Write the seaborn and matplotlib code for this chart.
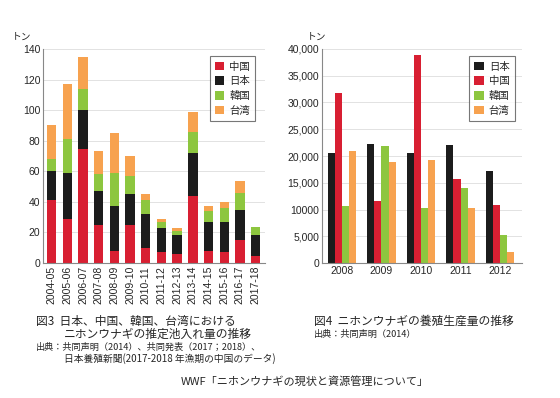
import numpy as np
import pandas as pd
import seaborn as sns
import matplotlib.pyplot as plt

# stocking (池入れ量), tons, by season
seasons = ["2004-05", "2005-06", "2006-07", "2007-08", "2008-09", "2009-10", "2010-11",
           "2011-12", "2012-13", "2013-14", "2014-15", "2015-16", "2016-17", "2017-18"]
stock_china = [41, 29, 74.5, 25, 8, 25, 10, 7, 6, 44, 8, 7, 15, 4.5]
stock_japan = [19, 30, 25.5, 22, 29, 20, 22, 16, 12, 28, 19, 20, 20, 14]
stock_korea = [8, 22, 14, 11, 22, 12, 9, 3.5, 3, 14, 7, 9, 11, 5]
stock_taiwan = [22, 36, 21, 15, 26, 13, 4, 2.5, 2, 13, 3, 4, 7.5, 0]

# aquaculture production, tons
years = ["2008", "2009", "2010", "2011", "2012"]
prod_japan = [20500, 22300, 20500, 22000, 17200]
prod_china = [31800, 11500, 38900, 15700, 10800]
prod_korea = [10700, 21900, 10300, 14100, 5200]
prod_taiwan = [21000, 18900, 19300, 10300, 2050]

RED, BLACK, GREEN, ORANGE = "#d81f32", "#1c1c1c", "#8dc63f", "#f7a24f"

sns.set_style("white")
plt.rcParams['font.family'] = ['Noto Sans CJK JP', 'DejaVu Sans']
narrow = ['Liberation Sans Narrow', 'Liberation Sans', 'DejaVu Sans']

fig = plt.figure(figsize=(5.6, 3.98), dpi=100)
ax1 = fig.add_axes([43/560, 1-263/398, 222/560, 214/398])
ax2 = fig.add_axes([322/560, 1-263/398, 200/560, 214/398])

# --- left: stacked bars
df1 = pd.DataFrame({"season": seasons, "中国": stock_china, "日本": stock_japan,
                    "韓国": stock_korea, "台湾": stock_taiwan})
bottom = np.zeros(len(seasons))
for name, col in [("中国", RED), ("日本", BLACK), ("韓国", GREEN), ("台湾", ORANGE)]:
    sns.barplot(data=df1, x="season", y=name, color=col, bottom=bottom, width=0.6,
                ax=ax1, label=name, saturation=1, linewidth=0)
    bottom = bottom + df1[name].values
ax1.set_ylim(0, 140)
ax1.set_xlim(-0.55, 13.6)
ax1.set_yticks(range(0, 141, 20))
ax1.set_xlabel("")
ax1.set_ylabel("")
for lab in ax1.get_xticklabels():
    lab.set_rotation(90)
    lab.set_family(narrow)
for lab in ax1.get_yticklabels():
    lab.set_family(narrow)
ax1.tick_params(axis="both", labelsize=7.5, length=0, pad=2)
ax1.yaxis.grid(True, color="#dddddd", lw=0.6)
ax1.set_axisbelow(True)
for s in ["top", "right"]:
    ax1.spines[s].set_visible(False)
for s in ["left", "bottom"]:
    ax1.spines[s].set_color("#888888")
    ax1.spines[s].set_linewidth(0.8)
leg1 = ax1.legend(loc="upper right", fontsize=7.5, frameon=True, fancybox=False,
                  handlelength=0.9, handleheight=0.9, handletextpad=0.5,
                  borderpad=0.5, labelspacing=0.45, bbox_to_anchor=(0.98, 0.99))
leg1.get_frame().set_edgecolor("#555555")
leg1.get_frame().set_linewidth(0.8)
fig.text(12/560, 1-37/398, "トン", fontsize=7, ha="left", va="center")

# --- right: grouped bars
df2 = pd.DataFrame({"year": years * 4,
                    "country": ["日本"] * 5 + ["中国"] * 5 + ["韓国"] * 5 + ["台湾"] * 5,
                    "tons": prod_japan + prod_china + prod_korea + prod_taiwan})
sns.barplot(data=df2, x="year", y="tons", hue="country",
            palette=[BLACK, RED, GREEN, ORANGE], width=0.72, ax=ax2, saturation=1,
            linewidth=0, gap=0)
ax2.set_ylim(0, 40000)
ax2.set_xlim(-0.5, 4.55)
ax2.set_yticks(range(0, 40001, 5000))
ax2.set_yticklabels(["0", "5,000", "10000", "15,000", "20,000", "25,000",
                     "30,000", "35,000", "40,000"])
ax2.set_xlabel("")
ax2.set_ylabel("")
for lab in ax2.get_xticklabels() + ax2.get_yticklabels():
    lab.set_family(narrow)
ax2.tick_params(axis="both", labelsize=7.5, length=0, pad=2)
ax2.yaxis.grid(True, color="#dddddd", lw=0.6)
ax2.set_axisbelow(True)
for s in ["top", "right"]:
    ax2.spines[s].set_visible(False)
for s in ["left", "bottom"]:
    ax2.spines[s].set_color("#888888")
    ax2.spines[s].set_linewidth(0.8)
leg2 = ax2.legend(loc="upper right", fontsize=7.5, frameon=True, fancybox=False,
                  handlelength=0.9, handleheight=0.9, handletextpad=0.5,
                  borderpad=0.5, labelspacing=0.45, bbox_to_anchor=(0.99, 0.99), title=None)
leg2.get_frame().set_edgecolor("#555555")
leg2.get_frame().set_linewidth(0.8)
fig.text(307/560, 1-37/398, "トン", fontsize=7, ha="left", va="center")

# captions
fig.text(36/560, 1-321/398, "図3  日本、中国、韓国、台湾における", fontsize=8.5, va="center")
fig.text(64/560, 1-334/398, "ニホンウナギの推定池入れ量の推移", fontsize=8.5, va="center")
fig.text(36/560, 1-347/398, "出典：共同声明（2014）、共同発表（2017；2018）、", fontsize=6.6, va="center")
fig.text(64/560, 1-359/398, "日本養殖新聞(2017-2018 年漁期の中国のデータ)", fontsize=7, va="center")
fig.text(314/560, 1-321/398, "図4  ニホンウナギの養殖生産量の推移", fontsize=8.5, va="center")
fig.text(314/560, 1-334/398, "出典：共同声明（2014）", fontsize=6.6, va="center")
fig.text(305/560, 1-381/398, "WWF「ニホンウナギの現状と資源管理について」", fontsize=8,
         ha="center", va="center")

fig.savefig("out.png", dpi=100)
